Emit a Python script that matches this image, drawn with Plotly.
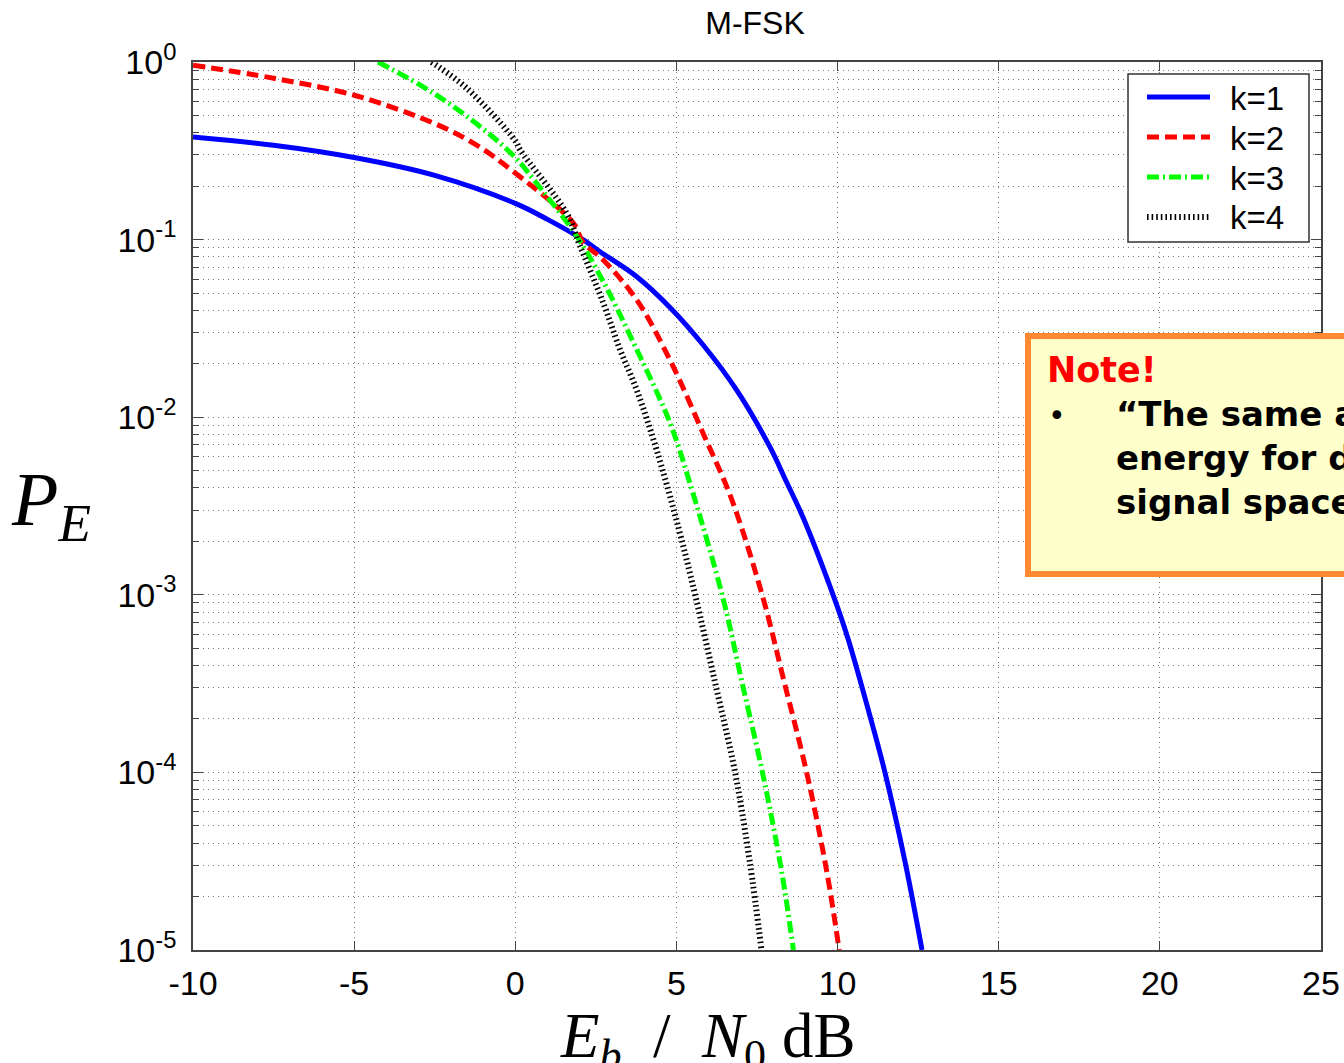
import plotly.graph_objects as go

# ---------------- data ----------------
x_k1 = [-10, -7.5, -5, -2.5, 0, 1, 2.1, 2.63, 3.77, 4.8, 5.83, 6.87, 7.9, 8.42, 8.92, 9.86,
        10.32, 11.1, 11.47, 12.1, 12.62]
pe_k1 = [0.378, 0.34, 0.29, 0.23, 0.16, 0.13, 0.1, 0.0855, 0.0618, 0.0415, 0.0255, 0.0142,
         0.0068, 0.0043, 0.00275, 1e-3, 5.7e-4, 1.8e-4, 1e-4, 3.1e-5, 1e-5]

x_k2 = [-10, -7.5, -5, -2.5, -1.25, 0, 1.8, 2.1, 2.73, 3.77, 4.8, 5.83, 6.7, 7.66, 8.35,
        9.04, 9.66, 10.05]
pe_k2 = [0.96, 0.81, 0.65, 0.45, 0.345, 0.237, 0.124, 0.097, 0.0767, 0.0457, 0.021, 0.0081,
         0.0035, 1e-3, 3.2e-4, 1e-4, 2.8e-5, 1e-5]

x_k3 = [-4.26, -2.55, -1, 0, 0.55, 1.9, 2.73, 3.77, 4.8, 5.5, 6.45, 7.02, 7.67, 8.26, 8.63]
pe_k3 = [1.0, 0.67, 0.42, 0.29, 0.22, 0.105, 0.058, 0.024, 0.0093, 0.0038, 9.5e-4, 3.3e-4,
         1e-4, 2.8e-5, 1e-5]

x_k4 = [-2.6, -1.5, 0, 0.15, 1.6, 2.0, 2.73, 3.25, 3.77, 4.39, 5.06, 5.58, 6.2, 6.82, 7.28,
        7.64]
pe_k4 = [1.0, 0.71, 0.36, 0.32, 0.14, 0.093, 0.044, 0.024, 0.0142, 0.0065, 0.0024, 1e-3,
         3.2e-4, 1e-4, 3.1e-5, 1e-5]

series_names = ["k=1", "k=2", "k=3", "k=4"]

x_tickvals = [-10, -5, 0, 5, 10, 15, 20, 25]
x_ticktext = ["-10", "-5", "0", "5", "10", "15", "20", "25"]
y_tickvals = [1, 1e-1, 1e-2, 1e-3, 1e-4, 1e-5]
y_ticktext = ["10<sup>0</sup>", "10<sup>-1</sup>", "10<sup>-2</sup>",
              "10<sup>-3</sup>", "10<sup>-4</sup>", "10<sup>-5</sup>"]

note_title = "Note!"
note_lines = ["“The same a", "energy for d", "signal space"]

# ---------------- layout geometry ----------------
W, H = 1344, 1063
L, R, T, B = 193, 1321, 62, 950


def px_x(p):
    return (p - L) / (R - L)


def px_y(p):
    return (B - p) / (B - T)


fig = go.Figure()

styles = [
    dict(color="#0000FF", width=5, dash="solid"),
    dict(color="#FF0000", width=5, dash="12px,6px"),
    dict(color="#00FF00", width=5, dash="12px,4px,2px,4px"),
    dict(color="#000000", width=6, dash="1.6px,3px"),
]
for xs, ys, name, st in zip([x_k1, x_k2, x_k3, x_k4], [pe_k1, pe_k2, pe_k3, pe_k4],
                            series_names, styles):
    fig.add_trace(go.Scatter(x=xs, y=ys, mode="lines", name=name,
                             line=dict(**st, shape="spline", smoothing=1.0),
                             showlegend=False))

minor_vals = [m * 10.0 ** e for e in range(-5, 0) for m in range(2, 10)]

grid_col = "#777777"
axis_col = "#444444"
tick_font = dict(family="Liberation Sans, Arial", size=34, color="black")

fig.update_xaxes(
    range=[-10, 25], tickmode="array", tickvals=x_tickvals, ticktext=x_ticktext,
    showgrid=True, gridcolor=grid_col, gridwidth=1, griddash="1px,4px",
    showline=True, linecolor=axis_col, linewidth=1.5, mirror="allticks",
    ticks="inside", ticklen=9, tickcolor=axis_col, tickwidth=1.2,
    tickfont=tick_font, zeroline=False, ticklabelstandoff=2, automargin=False,
)
fig.update_yaxes(
    type="log", range=[-5, 0], tickmode="array", tickvals=y_tickvals, ticktext=y_ticktext,
    showgrid=True, gridcolor=grid_col, gridwidth=1, griddash="1px,4px",
    showline=True, linecolor=axis_col, linewidth=1.5, mirror="allticks",
    ticks="inside", ticklen=10, tickcolor=axis_col, tickwidth=1.2,
    tickfont=tick_font, zeroline=False, ticklabelstandoff=8, automargin=False,
    minor=dict(tickmode="array", tickvals=minor_vals, ticks="inside", ticklen=6,
               tickcolor=axis_col, showgrid=True, gridcolor=grid_col, gridwidth=1,
               griddash="1px,4px"),
)

# ---- legend (drawn as box + line samples + labels) ----
fig.add_shape(type="rect", xref="paper", yref="paper",
              x0=px_x(1128), x1=px_x(1309), y0=px_y(74), y1=px_y(242),
              line=dict(color="#333333", width=1.5), fillcolor="white", layer="above")
leg_y = [97, 137, 177, 217]
for name, st, yy in zip(series_names, styles, leg_y):
    fig.add_shape(type="line", xref="paper", yref="paper",
                  x0=px_x(1147), x1=px_x(1210), y0=px_y(yy), y1=px_y(yy),
                  line=dict(color=st["color"], width=st["width"], dash=st["dash"]),
                  layer="above")
    fig.add_annotation(xref="paper", yref="paper", x=px_x(1228), y=px_y(yy + 1),
                       xanchor="left", yanchor="middle", showarrow=False, text=name,
                       font=dict(family="Liberation Sans, Arial", size=33, color="black"))

# ---- Note box ----
fig.add_shape(type="rect", xref="paper", yref="paper",
              x0=px_x(1028), x1=px_x(1365), y0=px_y(336), y1=px_y(574),
              line=dict(color="#FF8833", width=6), fillcolor="#FFFFCC", layer="above")

note_font = "DejaVu Sans, Verdana, sans-serif"
fig.add_annotation(xref="paper", yref="paper", x=px_x(1045), y=px_y(370),
                   xanchor="left", yanchor="middle", showarrow=False,
                   text="<b>" + note_title + "</b>",
                   font=dict(family=note_font, size=35, color="#FF0000"))
fig.add_annotation(xref="paper", yref="paper", x=px_x(1046), y=px_y(415),
                   xanchor="left", yanchor="middle", showarrow=False,
                   text="•", font=dict(family=note_font, size=30, color="black"))
fig.add_annotation(xref="paper", yref="paper", x=px_x(1114), y=px_y(392),
                   xanchor="left", yanchor="top", showarrow=False, align="left",
                   text="<b>" + "<br>".join(note_lines) + "</b>",
                   font=dict(family=note_font, size=34, color="black"))

# ---- Axis titles ----
fig.add_annotation(xref="paper", yref="paper", x=px_x(51), y=px_y(505),
                   xanchor="center", yanchor="middle", showarrow=False,
                   text="<i>P<sub>E</sub></i>",
                   font=dict(family="Liberation Serif, Times New Roman", size=76, color="black"))
fig.add_annotation(xref="paper", yref="paper", x=px_x(707), y=px_y(1040),
                   xanchor="center", yanchor="middle", showarrow=False,
                   text="<i>E<sub>b</sub></i>\u00a0\u00a0/\u00a0\u00a0<i>N</i><sub>0</sub>\u00a0dB",
                   font=dict(family="Liberation Serif, Times New Roman", size=63, color="black"))

fig.update_layout(
    width=W, height=H,
    margin=dict(l=L, r=W - R, t=T, b=H - B, autoexpand=False),
    paper_bgcolor="white", plot_bgcolor="white",
    title=dict(text="M-FSK", x=px_x(755), xref="paper", xanchor="center",
               y=1 - 23 / H, yref="container", yanchor="middle",
               font=dict(family="Liberation Sans, Arial", size=32, color="black")),
    showlegend=False,
)

fig.write_html("out.html", config={"displayModeBar": False},
               post_script="document.body.style.margin='0';")
